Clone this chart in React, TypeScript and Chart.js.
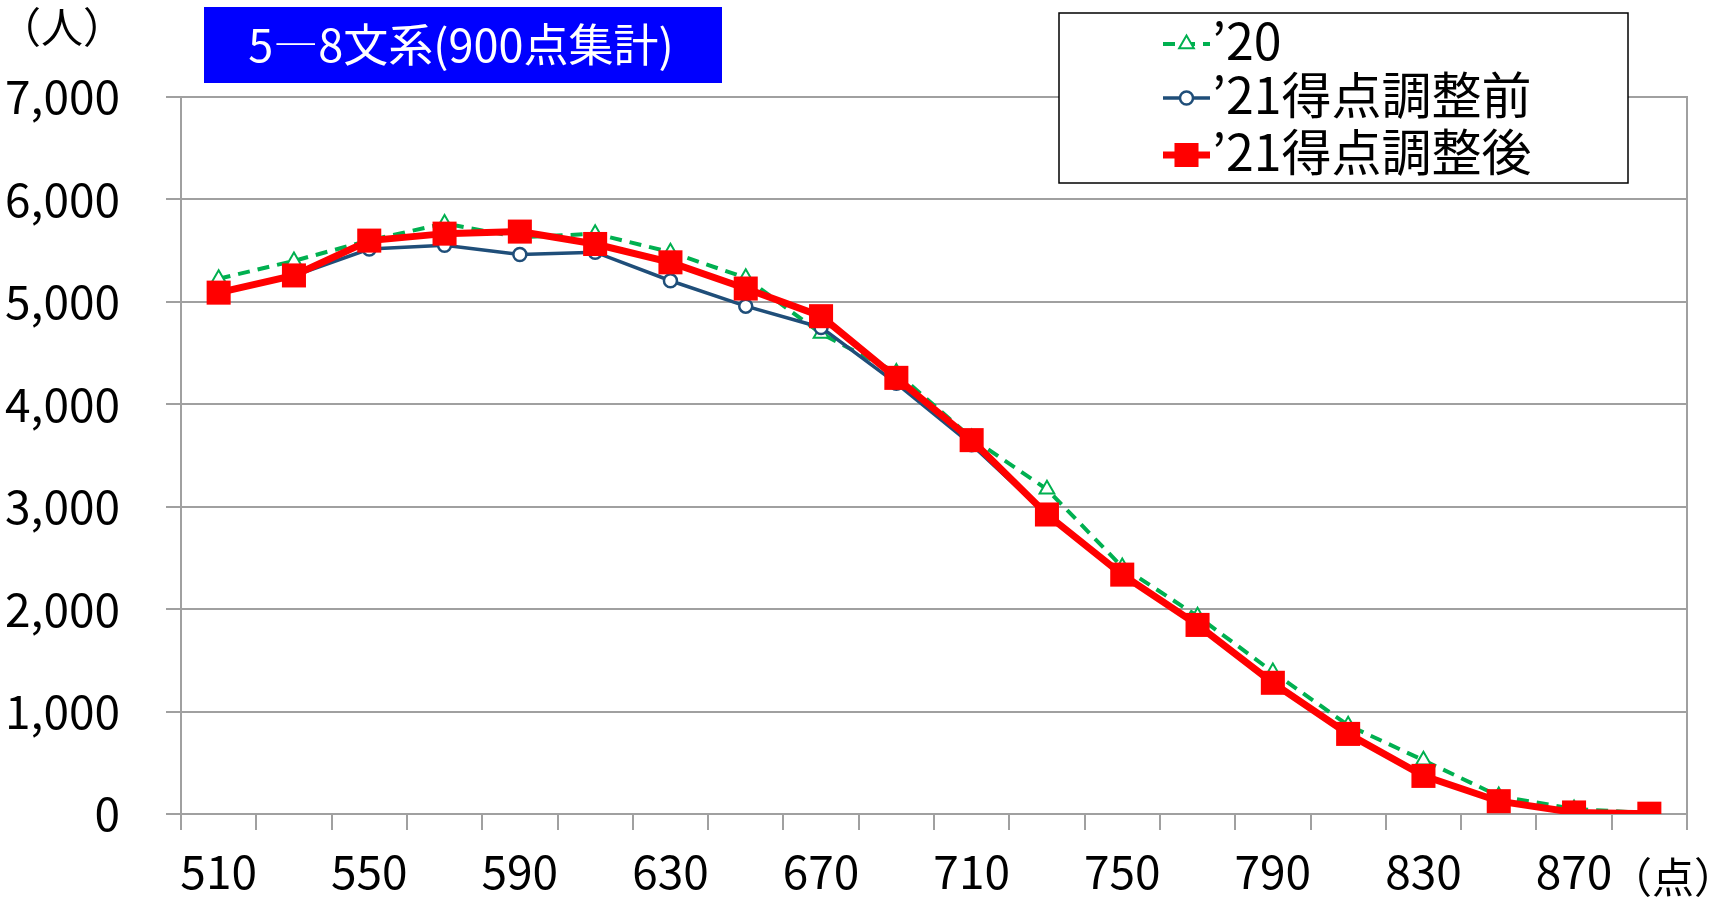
import React, { useEffect, useRef } from 'react';
import { Chart, registerables } from 'chart.js';
import { drawPoint } from 'chart.js/helpers';

Chart.register(...registerables);

// ---- data ----
const categories = ['510', '530', '550', '570', '590', '610', '630', '650', '670', '690', '710', '730', '750', '770', '790', '810', '830', '850', '870', '890'];
const series20 = [5225, 5400, 5600, 5765, 5630, 5665, 5485, 5235, 4690, 4310, 3670, 3170, 2412, 1931, 1387, 866, 525, 175, 50, 8];
const series21Before = [5085, 5255, 5515, 5552, 5462, 5485, 5206, 4958, 4750, 4205, 3605, 2920, 2335, 1845, 1280, 782, 372, 125, 15, 3];
const series21After = [5090, 5258, 5598, 5666, 5686, 5565, 5386, 5130, 4860, 4258, 3650, 2924, 2337, 1846, 1281, 782, 372, 125, 15, 3];
const seriesNames = ['’20', '’21得点調整前', '’21得点調整後'];
const yMin = 0;
const yMax = 7000;
const yStep = 1000;
const titleText = '5―8文系(900点集計)';
const yUnitLabel = '（人）';
const xUnitLabel = '（点）';

const GRID = '#A0A0A0';
const FONT = '"Noto Sans CJK JP", "Noto Sans CJK SC", sans-serif';

const decorPlugin = {
  id: 'decor',
  afterDraw(chart: any) {
    const ctx = chart.ctx as CanvasRenderingContext2D;
    ctx.save();
    // title box
    ctx.fillStyle = '#0000FF';
    ctx.fillRect(204, 7, 518, 76);
    ctx.fillStyle = '#FFFFFF';
    ctx.font = `45px ${FONT}`;
    ctx.textAlign = 'center';
    ctx.textBaseline = 'middle';
    ctx.fillText(titleText, 461, 45);

    // unit labels
    ctx.fillStyle = '#000000';
    ctx.font = `42px ${FONT}`;
    ctx.fillText(yUnitLabel, 62, 27);
    ctx.textAlign = 'left';
    ctx.fillText(xUnitLabel, 1610, 877);

    // legend
    const lx = 1059, ly = 13, lw = 569, lh = 170;
    ctx.fillStyle = '#FFFFFF';
    ctx.fillRect(lx, ly, lw, lh);
    ctx.strokeStyle = '#000000';
    ctx.lineWidth = 1.5;
    ctx.strokeRect(lx, ly, lw, lh);
    const rows = [44, 98, 155];
    chart.data.datasets.forEach((ds: any, i: number) => {
      const y = rows[i];
      ctx.save();
      ctx.strokeStyle = ds.borderColor;
      ctx.lineWidth = ds.borderWidth;
      ctx.setLineDash(ds.borderDash || []);
      ctx.beginPath();
      ctx.moveTo(1163, y);
      ctx.lineTo(1210, y);
      ctx.stroke();
      ctx.setLineDash([]);
      ctx.fillStyle = ds.pointBackgroundColor;
      ctx.strokeStyle = ds.pointBorderColor;
      ctx.lineWidth = ds.pointBorderWidth;
      drawPoint(ctx, { pointStyle: ds.pointStyle, radius: ds.pointRadius, borderWidth: ds.pointBorderWidth, rotation: 0 } as any, 1186.5, y);
      ctx.restore();
      ctx.fillStyle = '#000000';
      ctx.font = `50px ${FONT}`;
      ctx.textAlign = 'left';
      ctx.textBaseline = 'middle';
      ctx.fillText(ds.label, 1212, y - 3);
    });
    ctx.restore();
  },
};

export default function App() {
  const canvasRef = useRef<HTMLCanvasElement | null>(null);

  useEffect(() => {
    document.body.style.margin = '0';
    const canvas = canvasRef.current;
    if (!canvas) return;
    const chart = new Chart(canvas, {
      type: 'line',
      data: {
        labels: categories,
        datasets: [
          {
            label: seriesNames[0],
            data: series20,
            borderColor: '#00B050',
            borderWidth: 4,
            borderDash: [12, 8],
            pointStyle: 'triangle',
            pointRadius: 8.5,
            pointBorderWidth: 2,
            pointBorderColor: '#00B050',
            pointBackgroundColor: '#FFFFFF',
            tension: 0,
            order: 2,
          },
          {
            label: seriesNames[1],
            data: series21Before,
            borderColor: '#1F4E79',
            borderWidth: 3.5,
            pointStyle: 'circle',
            pointRadius: 6.5,
            pointBorderWidth: 2.5,
            pointBorderColor: '#1F4E79',
            pointBackgroundColor: '#FFFFFF',
            tension: 0,
            order: 1,
          },
          {
            label: seriesNames[2],
            data: series21After,
            borderColor: '#FF0000',
            borderWidth: 7,
            pointStyle: 'rect',
            pointRadius: 17,
            pointBorderWidth: 0,
            pointBorderColor: '#FF0000',
            pointBackgroundColor: '#FF0000',
            tension: 0,
            order: 0,
          },
        ],
      },
      options: {
        animation: false,
        responsive: true,
        maintainAspectRatio: false,
        devicePixelRatio: 1,
        layout: { padding: { top: 97, right: 30, left: 0, bottom: 0 } },
        font: { family: FONT },
        plugins: {
          legend: { display: false },
          title: { display: false },
          tooltip: { enabled: false },
        },
        scales: {
          x: {
            type: 'category',
            offset: true,
            afterFit: (s: any) => { s.height = 86; },
            grid: {
              offset: true,
              drawOnChartArea: false,
              drawTicks: true,
              tickLength: 16,
              lineWidth: 2,
              color: GRID,
              tickColor: GRID,
            },
            border: { display: true, color: GRID, width: 2 },
            ticks: {
              autoSkip: false,
              maxRotation: 0,
              minRotation: 0,
              padding: 14,
              color: '#000000',
              font: { family: FONT, size: 46 },
              callback: (_v: any, i: number) => (i % 2 === 0 ? categories[i] : ''),
            },
          },
          y: {
            min: yMin,
            max: yMax,
            afterFit: (s: any) => { s.width = 181; },
            grid: { color: GRID, lineWidth: 2, tickLength: 15, drawTicks: true },
            border: { display: true, color: GRID, width: 2 },
            ticks: {
              stepSize: yStep,
              padding: 46,
              color: '#000000',
              font: { family: FONT, size: 46 },
              callback: (v: any) => Number(v).toLocaleString('en-US'),
            },
          },
          yRight: {
            position: 'right',
            min: yMin,
            max: yMax,
            display: true,
            afterFit: (s: any) => { s.width = 0; },
            grid: { display: false, drawTicks: false },
            ticks: { display: false },
            border: { display: true, color: GRID, width: 2 },
          },
        },
      },
      plugins: [decorPlugin],
    } as any);
    return () => chart.destroy();
  }, []);

  return (
    <div style={{ position: 'relative', width: '1717px', height: '900px' }}>
      <canvas ref={canvasRef} />
    </div>
  );
}
